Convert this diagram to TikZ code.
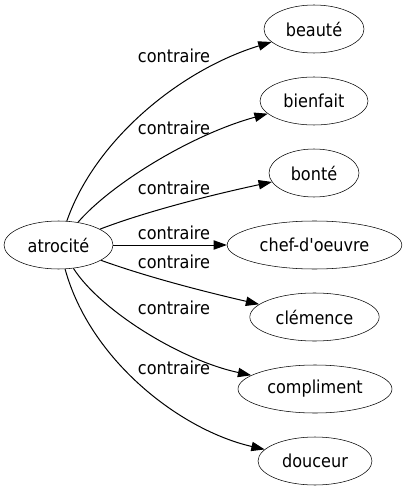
\documentclass[tikz,border=0pt]{standalone}
\usepackage{fontspec}
\setmainfont{DejaVu Sans Condensed}[Ligatures=TeXOff]
\usetikzlibrary{shapes.geometric,arrows.meta}
\begin{document}
\begin{tikzpicture}[x=0.75pt,y=-0.75pt,
  word/.style={draw,ellipse,inner sep=0pt,minimum height=36pt,font=\fontsize{13.4}{15}\selectfont},
  lbl/.style={inner sep=0pt,font=\fontsize{13.4}{15}\selectfont},
  rel/.style={-{Triangle[length=10pt,width=7pt]},line width=0.75pt}]
\useasboundingbox (0,0) rectangle (407,491);
\node[word,minimum width=81.75pt] (atr) at (58.5,245) {atrocité};
\node[word,minimum width=75pt] (beaute) at (314,29) {beauté};
\node[word,minimum width=81pt] (bienfait) at (314,101) {bienfait};
\node[word,minimum width=67.5pt] (bonte) at (314,173) {bonté};
\node[word,minimum width=131pt] (chef) at (314.5,245) {chef-d'oeuvre};
\node[word,minimum width=97pt] (clemence) at (314.5,317) {clémence};
\node[word,minimum width=115.5pt] (compliment) at (315,389) {compliment};
\node[word,minimum width=85.5pt] (douceur) at (315,461) {douceur};
\draw[rel] (atr) .. controls (95,140) and (180,70) .. (beaute);
\draw[rel] (atr) .. controls (110,185) and (190,135) .. (bienfait);
\draw[rel] (atr) .. controls (150,210) and (220,193) .. (bonte);
\draw[rel] (atr) -- (chef);
\draw[rel] (atr) .. controls (150,278) and (210,293) .. (clemence);
\draw[rel] (atr) .. controls (100,310) and (180,360) .. (compliment);
\draw[rel] (atr) .. controls (90,360) and (180,430) .. (douceur);
\node[lbl] (l1) at (174,56) {contraire};
\node[lbl] (l2) at (174,128) {contraire};
\node[lbl] (l3) at (174,188) {contraire};
\node[lbl] (l4) at (174,233) {contraire};
\node[lbl] (l5) at (174,262) {contraire};
\node[lbl] (l6) at (174,308) {contraire};
\node[lbl] (l7) at (174,368) {contraire};
\end{tikzpicture}
\end{document}
